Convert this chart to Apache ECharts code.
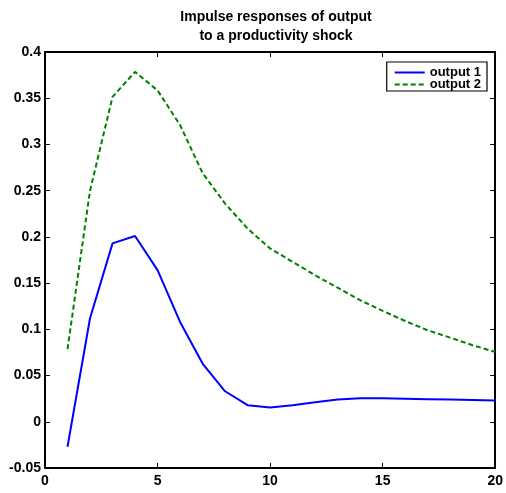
<!DOCTYPE html>
<html>
<head>
<meta charset="utf-8">
<script src="https://cdn.jsdelivr.net/npm/echarts@6/dist/echarts.min.js"></script>
<style>
html,body{margin:0;padding:0;background:#fff;}
#chart{width:506px;height:493px;}
</style>
</head>
<body>
<div id="chart"></div>
<script>
var periods = [1,2,3,4,5,6,7,8,9,10,11,12,13,14,15,16,17,18,19,20];
var output1 = [-0.027,0.112,0.193,0.201,0.164,0.108,0.063,0.033,0.018,0.0155,0.018,0.021,0.024,0.0255,0.0255,0.025,0.0245,0.024,0.0235,0.023];
var output2 = [0.0785,0.25,0.3515,0.3785,0.3585,0.321,0.269,0.236,0.209,0.1875,0.173,0.1585,0.145,0.1315,0.12,0.109,0.099,0.091,0.0828,0.0755];
var xTicks = [0,5,10,15,20];
var yTicks = [-0.05,0,0.05,0.1,0.15,0.2,0.25,0.3,0.35,0.4];
var seriesNames = ['output 1','output 2'];
var titleLines = ['Impulse responses of output','to a productivity shock'];

function pairs(ys){ return periods.map(function(x,i){ return [x, ys[i]]; }); }
var font = 'Liberation Sans';
var axisCommon = {
  axisLine:{show:true, onZero:false, lineStyle:{color:'#000', width:2}},
  axisTick:{show:true, inside:true, length:5, lineStyle:{color:'#000', width:1}},
  splitLine:{show:false}
};
var chart = echarts.init(document.getElementById('chart'), null, {renderer:'canvas'});
chart.setOption({
  animation:false,
  backgroundColor:'#fff',
  title:{
    text: titleLines.join('\n'),
    left: 271, top: 3, textAlign:'center',
    textStyle:{fontFamily:font, fontWeight:'bold', fontSize:14, color:'#000', lineHeight:19}
  },
  legend:{
    show:true,
    right: 19, top: 62, orient:'vertical',
    backgroundColor:'#fff', borderColor:'#000', borderWidth:1.2,
    padding:[4,6,0,7], itemGap:-1, itemWidth:30, itemHeight:12,
    itemStyle:{opacity:0},
    textStyle:{fontFamily:font, fontWeight:'bold', fontSize:13, color:'#000'},
    data: seriesNames
  },
  grid:{left:45, right:9, top:52, bottom:25, containLabel:false},
  xAxis:[
    Object.assign({type:'value', min:0, max:20, interval:5, position:'bottom',
      axisLabel:{fontFamily:font, fontWeight:'bold', fontSize:14, color:'#000', margin:6}}, axisCommon),
    Object.assign({type:'value', min:0, max:20, interval:5, position:'top',
      axisLabel:{show:false}}, axisCommon)
  ],
  yAxis:[
    Object.assign({type:'value', min:-0.05, max:0.4, interval:0.05, position:'left',
      axisLabel:{fontFamily:font, fontWeight:'bold', fontSize:14, color:'#000', margin:4,
        formatter:function(v){ return String(+v.toFixed(2)); }}}, axisCommon),
    Object.assign({type:'value', min:-0.05, max:0.4, interval:0.05, position:'right',
      axisLabel:{show:false}}, axisCommon)
  ],
  series:[
    {name:seriesNames[0], type:'line', data:pairs(output1), showSymbol:false, symbol:'none',
      lineStyle:{color:'#0000ff', width:2}, itemStyle:{color:'#0000ff'}},
    {name:seriesNames[1], type:'line', data:pairs(output2), showSymbol:false, symbol:'none',
      lineStyle:{color:'#008000', width:2, type:[5,3]}, itemStyle:{color:'#008000'}}
  ]
});
</script>
</body>
</html>
